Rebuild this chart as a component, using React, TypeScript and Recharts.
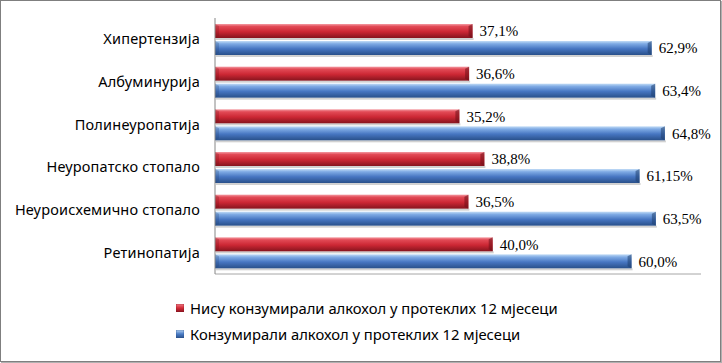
import { Bar, BarChart, LabelList, Legend, XAxis, YAxis } from 'recharts';

const categories = [
  'Хипертензија',
  'Албуминурија',
  'Полинеуропатија',
  'Неуропатско стопало',
  'Неуроисхемично стопало',
  'Ретинопатија',
];
const notConsumed = [37.1, 36.6, 35.2, 38.8, 36.5, 40.0];
const consumed = [62.9, 63.4, 64.8, 61.15, 63.5, 60.0];
const notConsumedLabels = ['37,1%', '36,6%', '35,2%', '38,8%', '36,5%', '40,0%'];
const consumedLabels = ['62,9%', '63,4%', '64,8%', '61,15%', '63,5%', '60,0%'];
const seriesNames = [
  'Нису конзумирали алкохол у протеклих 12 мјесеци',
  'Конзумирали алкохол у протеклих 12 мјесеци',
];

const data = categories.map((name, i) => ({
  name,
  notConsumed: notConsumed[i],
  consumed: consumed[i],
  notConsumedLabel: notConsumedLabels[i],
  consumedLabel: consumedLabels[i],
}));

const FONT = '"Noto Sans", sans-serif';

function BevelBar(props: any) {
  const { x, y, width, height, gradId, capColor } = props;
  if (!width || width <= 0) return null;
  const cap = 4;
  return (
    <g>
      <rect x={x + 1} y={y + height} width={width} height={2} fill="#9a9a9a" opacity={0.45} />
      <rect x={x} y={y} width={width} height={height} fill={`url(#${gradId})`} />
      <polygon
        points={`${x + width - cap},${y + 2} ${x + width},${y} ${x + width},${y + height} ${x + width - cap},${y + height - 2}`}
        fill={capColor}
        opacity={0.55}
      />
      <polygon
        points={`${x},${y} ${x + cap},${y + 2} ${x + cap},${y + height - 2} ${x},${y + height}`}
        fill={capColor}
        opacity={0.25}
      />
    </g>
  );
}

function LegendContent() {
  return (
    <div style={{ fontFamily: FONT, fontSize: 14.8, color: '#000' }}>
      {seriesNames.map((n, i) => (
        <div key={n} style={{ display: 'flex', alignItems: 'center', height: 26 }}>
          <svg width={8} height={8} style={{ marginRight: 6 }}>
            <defs>
              <linearGradient id={i === 0 ? 'redSq' : 'blueSq'} x1="0" y1="0" x2="0" y2="1">
                <stop offset="0" stopColor={i === 0 ? '#f07c86' : '#b5d3f3'} />
                <stop offset="0.5" stopColor={i === 0 ? '#d32a37' : '#4a7cc6'} />
                <stop offset="1" stopColor={i === 0 ? '#8a1520' : '#2b528c'} />
              </linearGradient>
            </defs>
            <rect
              x={0}
              y={0}
              width={8}
              height={8}
              fill={i === 0 ? 'url(#redSq)' : 'url(#blueSq)'}
              stroke={i === 0 ? '#8a1520' : '#2b528c'}
              strokeWidth={0.5}
            />
          </svg>
          <span>{n}</span>
        </div>
      ))}
    </div>
  );
}

export default function App() {
  return (
    <div style={{ position: 'absolute', left: 0, top: 0, width: 722, height: 363, background: '#fff' }}>
      <div
        style={{
          position: 'absolute',
          left: 0,
          top: 0,
          width: 719,
          height: 360,
          border: '1px solid #7f7f7f',
          boxShadow: '1px 1px 0 #b0b0b0',
        }}
      />
      <div style={{ position: 'absolute', left: 0, top: 0 }}>
        <BarChart
          width={722}
          height={363}
          data={data}
          layout="vertical"
          margin={{ top: 18, right: 21, left: 0, bottom: 88 }}
          barSize={14}
          barGap={3}
        >
          <defs>
            <linearGradient id="redGrad" x1="0" y1="0" x2="0" y2="1">
              <stop offset="0" stopColor="#f49aa2" />
              <stop offset="0.18" stopColor="#e24a56" />
              <stop offset="0.55" stopColor="#cc2734" />
              <stop offset="1" stopColor="#86141e" />
            </linearGradient>
            <linearGradient id="blueGrad" x1="0" y1="0" x2="0" y2="1">
              <stop offset="0" stopColor="#c2dcf6" />
              <stop offset="0.2" stopColor="#7eaae4" />
              <stop offset="0.55" stopColor="#4776c2" />
              <stop offset="1" stopColor="#29508a" />
            </linearGradient>
          </defs>
          <XAxis
            type="number"
            domain={[0, 70]}
            tick={false}
            tickLine={false}
            height={1}
            axisLine={{ stroke: '#a6a6a6' }}
          />
          <YAxis
            type="category"
            dataKey="name"
            width={215}
            tickLine={false}
            tickSize={0}
            tickMargin={15}
            axisLine={{ stroke: '#868686' }}
            tick={{ fill: '#000', fontSize: 14.5, fontFamily: FONT, letterSpacing: 0.2 }}
          />
          <Legend
            layout="vertical"
            align="center"
            verticalAlign="middle"
            content={<LegendContent />}
            wrapperStyle={{ left: 176, top: 295, width: 440 }}
          />
          <Bar
            dataKey="notConsumed"
            name={seriesNames[0]}
            isAnimationActive={false}
            shape={(p: any) => <BevelBar {...p} gradId="redGrad" capColor="#6e0f17" />}
          >
            <LabelList
              dataKey="notConsumedLabel"
              position="right"
              offset={7}
              style={{ fill: '#000', fontSize: 15, fontFamily: '"Liberation Serif", serif' }}
            />
          </Bar>
          <Bar
            dataKey="consumed"
            name={seriesNames[1]}
            isAnimationActive={false}
            shape={(p: any) => <BevelBar {...p} gradId="blueGrad" capColor="#1f3f70" />}
          >
            <LabelList
              dataKey="consumedLabel"
              position="right"
              offset={7}
              style={{ fill: '#000', fontSize: 15, fontFamily: '"Liberation Serif", serif' }}
            />
          </Bar>
        </BarChart>
      </div>
    </div>
  );
}
